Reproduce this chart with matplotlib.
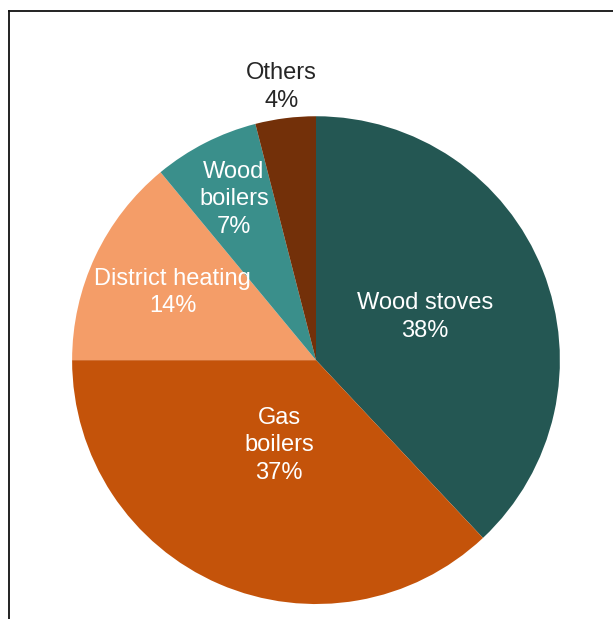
import numpy as np
import matplotlib
matplotlib.use("Agg")
from matplotlib import pyplot as plt
from matplotlib.lines import Line2D

labels = ["Wood stoves", "Gas\nboilers", "District heating", "Wood\nboilers", "Others"]
shares = [38, 37, 14, 7, 4]
colors = ["#245753", "#C4530A", "#F49D68", "#3A8F8B", "#733009"]
text_colors = ["white", "white", "white", "white", "#262626"]
label_dist = [0.48, 0.38, 0.65, 0.74, 1.13]

plt.rcParams['font.family'] = ['Liberation Sans', 'DejaVu Sans']

fig = plt.figure(figsize=(6.13, 6.19), dpi=100)
ax = fig.add_axes([0.1175, 0.0242, 0.796, 0.788])

wedges, _ = ax.pie(shares, colors=colors, startangle=90, counterclock=False,
                   radius=1.0, wedgeprops=dict(linewidth=0))

# place labels along each wedge's middle angle
for w, lab, val, tc, d in zip(wedges, labels, shares, text_colors, label_dist):
    ang = np.deg2rad((w.theta1 + w.theta2) / 2)
    ax.text(d * np.cos(ang), d * np.sin(ang), "%s\n%d%%" % (lab, val),
            ha="center", va="center", color=tc, fontsize=17, linespacing=1.33)

ax.set_xlim(-1, 1)
ax.set_ylim(-1, 1)
ax.set_aspect("equal")
ax.axis("off")

# frame cut off at right and bottom
x0 = 9 / 613
y0 = 1 - 11 / 619
fig.add_artist(Line2D([x0, x0], [0, y0], color="#111111", lw=1.3, transform=fig.transFigure))
fig.add_artist(Line2D([x0, 1], [y0, y0], color="#111111", lw=1.3, transform=fig.transFigure))

fig.savefig("out.png", dpi=100)
